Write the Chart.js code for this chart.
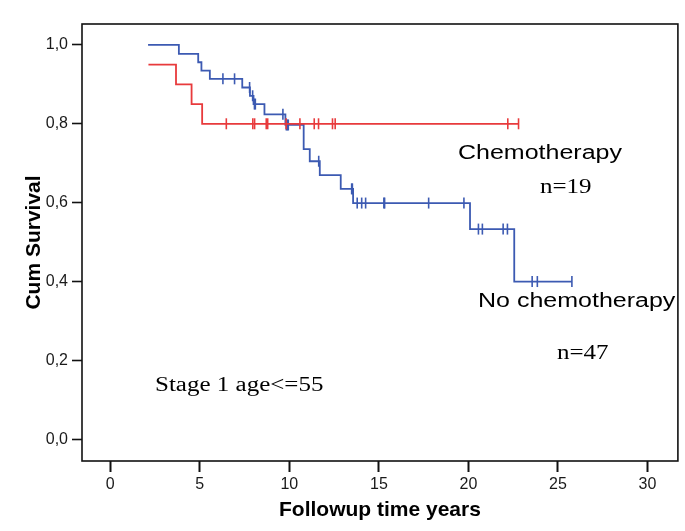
<!DOCTYPE html>
<html>
<head>
<meta charset="utf-8">
<script src="https://cdn.jsdelivr.net/npm/chart.js@4.4.1/dist/chart.umd.min.js"></script>
<style>
html, body { margin: 0; padding: 0; background: #fff; }
#wrap { width: 685px; height: 531px; }
</style>
</head>
<body>
<div id="wrap"><canvas id="km"></canvas></div>
<script>
// Kaplan-Meier steps (time in years, cum survival after the step)
const chemoTimes = [2.13, 3.67, 4.54, 5.13, 22.8];
const chemoSurv = [0.95, 0.90, 0.85, 0.80, 0.80];
const chemoCensored = [6.48, 7.96, 8.06, 8.71, 8.79, 9.82, 10.59, 11.39, 11.63, 12.41, 12.56, 22.2, 22.8];

const noChemoTimes = [2.11, 3.83, 4.91, 5.09, 5.56, 7.37, 7.8, 8.0, 8.61, 9.78, 10.8, 11.14, 11.7, 12.87, 13.56, 20.09, 22.56, 25.78];
const noChemoSurv = [1.0, 0.977, 0.956, 0.935, 0.914, 0.892, 0.871, 0.850, 0.824, 0.797, 0.736, 0.705, 0.670, 0.635, 0.599, 0.533, 0.400, 0.400];
const noChemoCensored = [6.29, 6.94, 7.78, 7.95, 8.05, 8.1, 9.64, 9.83, 9.89, 9.94, 11.64, 13.48, 13.52, 13.79, 14.04, 14.26, 15.28, 15.32, 17.78, 19.75, 20.56, 20.78, 21.94, 22.18, 23.56, 23.85, 25.78];

const xTicks = [0, 5, 10, 15, 20, 25, 30];
const yTicks = [0, 0.2, 0.4, 0.6, 0.8, 1.0];

const BLUE = 'rgb(60, 90, 178)';
const RED = 'rgb(232, 58, 60)';
const SANS = "'Liberation Sans', Arial, sans-serif";
const SERIF = "'Liberation Serif', 'Times New Roman', serif";

// survival value of a step curve at time t
function survAt(times, surv, t) {
    let s = surv[0];
    for (let i = 0; i < times.length; i++) {
        if (times[i] <= t) s = surv[i];
    }
    return s;
}

const toPoints = (times, surv) => times.map((t, i) => ({ x: t, y: surv[i] }));
const toCensor = (cens, times, surv) => cens.map(t => ({ x: t, y: survAt(times, surv, t) }));

// text placed on the plot (pixel positions, baseline-left)
const notes = [
    { text: 'Chemotherapy', x: 458, y: 159, font: `20px ${SANS}` },
    { text: 'n=19', x: 540, y: 193, font: `20px ${SERIF}` },
    { text: 'No chemotherapy', x: 478, y: 307, font: `20px ${SANS}` },
    { text: 'n=47', x: 557, y: 359, font: `20px ${SERIF}` },
    { text: 'Stage 1 age<=55', x: 155, y: 391, font: `20px ${SERIF}` },
];

const frameAndNotes = {
    id: 'frameAndNotes',
    afterDraw(chart) {
        const { ctx, chartArea: a } = chart;
        ctx.save();
        ctx.strokeStyle = '#111';
        ctx.lineWidth = 1.6;
        ctx.strokeRect(a.left, a.top, a.right - a.left, a.bottom - a.top);
        notes.forEach(n => {
            ctx.save();
            ctx.translate(n.x, n.y);
            ctx.scale(1.25, 1);
            ctx.font = n.font;
            ctx.fillStyle = '#000';
            ctx.textBaseline = 'alphabetic';
            ctx.textAlign = 'left';
            ctx.fillText(n.text, 0, 0);
            ctx.restore();
        });
        ctx.restore();
    }
};

const censorStyle = {
    type: 'scatter',
    showLine: false,
    pointStyle: 'line',
    rotation: 90,
    pointRadius: 5.5,
    pointHoverRadius: 5.5,
    borderWidth: 1.6,
};

new Chart(document.getElementById('km'), {
    type: 'line',
    data: {
        datasets: [
            {
                label: 'Chemotherapy',
                data: toPoints(chemoTimes, chemoSurv),
                stepped: true,
                borderColor: RED,
                borderWidth: 1.8,
                pointRadius: 0,
                fill: false,
            },
            {
                ...censorStyle,
                label: 'Chemotherapy censored',
                data: toCensor(chemoCensored, chemoTimes, chemoSurv),
                borderColor: RED,
                backgroundColor: RED,
            },
            {
                label: 'No chemotherapy',
                data: toPoints(noChemoTimes, noChemoSurv),
                stepped: true,
                borderColor: BLUE,
                borderWidth: 1.8,
                pointRadius: 0,
                fill: false,
            },
            {
                ...censorStyle,
                label: 'No chemotherapy censored',
                data: toCensor(noChemoCensored, noChemoTimes, noChemoSurv),
                borderColor: BLUE,
                backgroundColor: BLUE,
            },
        ]
    },
    options: {
        responsive: true,
        maintainAspectRatio: false,
        animation: false,
        layout: { padding: { top: 24, right: 5, left: 0, bottom: 0 } },
        plugins: {
            legend: { display: false },
            tooltip: { enabled: false },
        },
        scales: {
            x: {
                type: 'linear',
                min: -1.58,
                max: 31.7,
                afterFit: scale => { scale.height = 70; },
                afterBuildTicks: scale => { scale.ticks = xTicks.map(v => ({ value: v })); },
                border: { display: false },
                grid: { drawOnChartArea: false, drawTicks: true, tickLength: 11, tickWidth: 2, tickColor: '#111' },
                ticks: { color: '#1a1a1a', padding: 3, font: { family: SANS, size: 16 } },
                title: {
                    display: true,
                    text: 'Followup time years',
                    color: '#000',
                    font: { family: SANS, size: 21, weight: 'bold' },
                    padding: { top: 0, bottom: 8 },
                },
            },
            y: {
                type: 'linear',
                min: -0.055,
                max: 1.053,
                afterFit: scale => { scale.width = 82; },
                afterBuildTicks: scale => { scale.ticks = yTicks.map(v => ({ value: v })); },
                border: { display: false },
                grid: { drawOnChartArea: false, drawTicks: true, tickLength: 10, tickWidth: 1.6, tickColor: '#111' },
                ticks: {
                    color: '#1a1a1a',
                    padding: 4,
                    font: { family: SANS, size: 16 },
                    callback: v => v.toFixed(1).replace('.', ','),
                },
                title: {
                    display: true,
                    text: 'Cum Survival',
                    color: '#000',
                    font: { family: SANS, size: 21, weight: 'bold' },
                    padding: { top: 22, bottom: 0 },
                },
            },
        },
    },
    plugins: [frameAndNotes],
});
</script>
</body>
</html>
